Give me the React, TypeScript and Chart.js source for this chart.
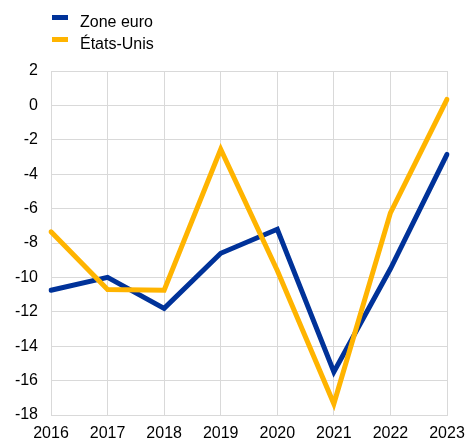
import React, { useEffect, useRef } from "react";
import { Chart, registerables } from "chart.js";

Chart.register(...registerables);

const years = ["2016", "2017", "2018", "2019", "2020", "2021", "2022", "2023"];
const zoneEuro = [-10.75, -10.0, -11.8, -8.6, -7.2, -15.5, -9.5, -2.85];
const etatsUnis = [-7.35, -10.7, -10.75, -2.55, -9.6, -17.35, -6.25, 0.35];
const seriesNames = ["Zone euro", "États-Unis"];
const seriesColors = ["#003299", "#FFB400"];
const yMin = -18;
const yMax = 2;
const yStep = 2;

const FONT = "Arial, 'Liberation Sans', sans-serif";

export default function App() {
  const ref = useRef<HTMLCanvasElement | null>(null);

  useEffect(() => {
    if (!ref.current) return;
    const chart = new Chart(ref.current, {
      type: "line",
      data: {
        labels: years,
        datasets: [
          {
            label: seriesNames[0],
            data: zoneEuro,
            borderColor: seriesColors[0],
            backgroundColor: seriesColors[0],
            borderWidth: 5,
            pointRadius: 0,
            tension: 0,
            borderCapStyle: "round",
            order: 1,
          },
          {
            label: seriesNames[1],
            data: etatsUnis,
            borderColor: seriesColors[1],
            backgroundColor: seriesColors[1],
            borderWidth: 5,
            pointRadius: 0,
            tension: 0,
            borderCapStyle: "round",
            order: 0,
          },
        ],
      },
      options: {
        responsive: false,
        animation: false,
        layout: { padding: { top: 71, right: 18, left: 0, bottom: 0 } },
        plugins: {
          legend: { display: false },
          tooltip: { enabled: false },
        },
        scales: {
          x: {
            type: "category",
            offset: false,
            grid: { color: "#d9d9d9", lineWidth: 1, drawTicks: false },
            border: { color: "#d9d9d9" },
            ticks: {
              color: "#000",
              font: { family: FONT, size: 16 },
              padding: 9,
              maxRotation: 0,
              autoSkip: false,
            },
            afterFit: (s: any) => {
              s.height = 24;
              s.paddingLeft = 0;
              s.paddingRight = 0;
            },
          },
          y: {
            min: yMin,
            max: yMax,
            grid: { color: "#d9d9d9", lineWidth: 1, drawTicks: false },
            border: { color: "#d9d9d9" },
            ticks: {
              stepSize: yStep,
              color: "#000",
              font: { family: FONT, size: 16 },
              padding: 13,
            },
            afterFit: (s: any) => {
              s.width = 51;
              s.paddingTop = 0;
              s.paddingBottom = 0;
            },
          },
        },
      },
    });
    return () => chart.destroy();
  }, []);

  const legendText: React.CSSProperties = {
    position: "absolute",
    left: 80,
    fontFamily: FONT,
    fontSize: 16,
    color: "#000",
    whiteSpace: "nowrap",
    lineHeight: "normal",
  };

  return (
    <div
      style={{
        position: "fixed",
        left: 0,
        top: 0,
        width: 465,
        height: 439,
        overflow: "hidden",
        background: "#fff",
      }}
    >
      <canvas ref={ref} width={465} height={439} style={{ display: "block" }} />
      <div style={{ position: "absolute", left: 52, top: 15, width: 16, height: 5, background: seriesColors[0] }} />
      <div style={{ ...legendText, top: 13 }}>{seriesNames[0]}</div>
      <div style={{ position: "absolute", left: 52, top: 37, width: 16, height: 5, background: seriesColors[1] }} />
      <div style={{ ...legendText, top: 35 }}>{seriesNames[1]}</div>
    </div>
  );
}
